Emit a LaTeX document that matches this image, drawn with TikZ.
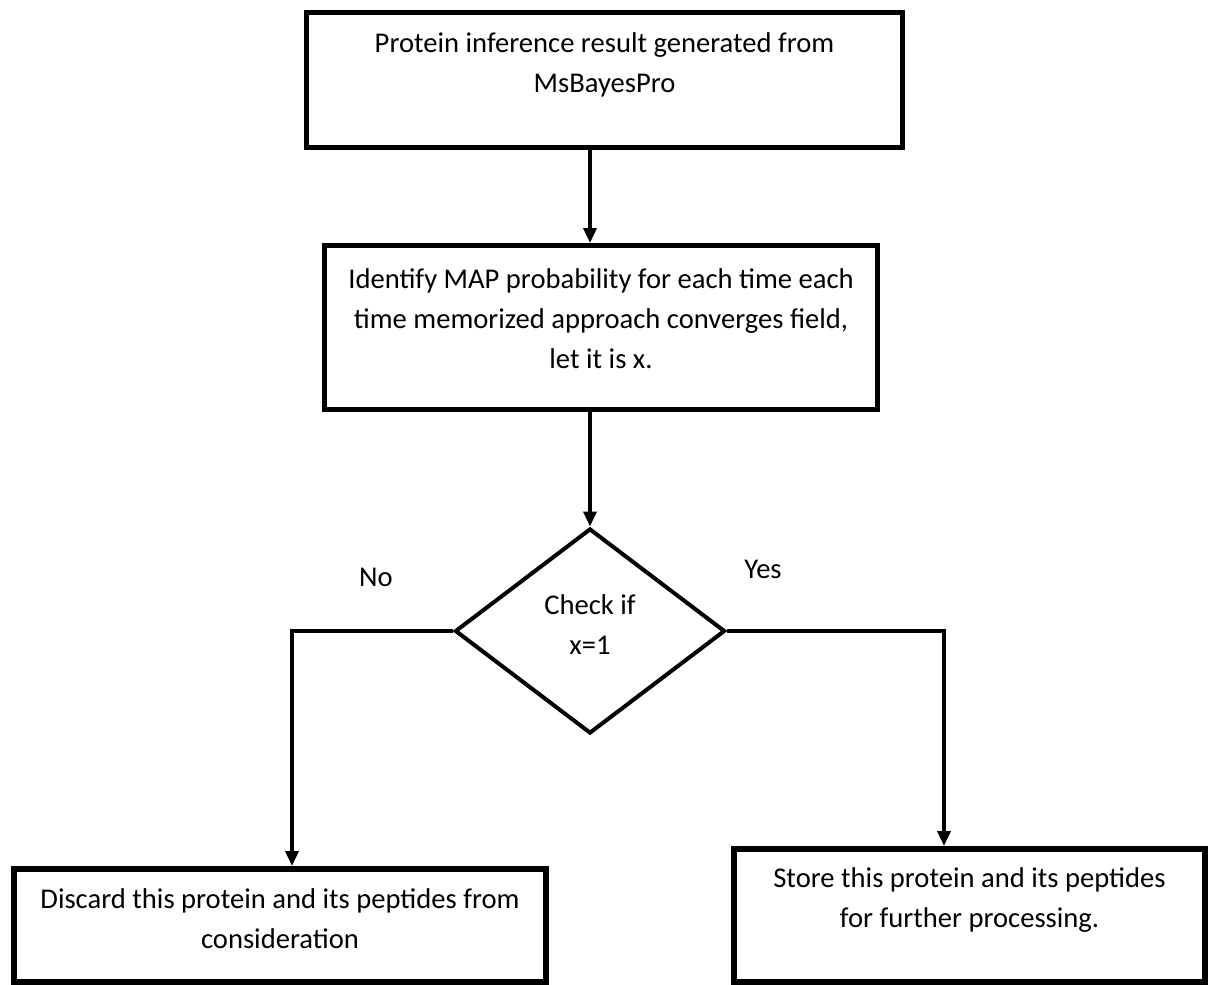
\documentclass[tikz,border=0pt]{standalone}
\usepackage{fontspec}
\setmainfont{Carlito}
\usetikzlibrary{arrows.meta,shapes.geometric}

\begin{document}
\begin{tikzpicture}[
    x=1pt, y=-1pt,
    every node/.style={font=\fontsize{28.6}{40}\selectfont, align=center, inner sep=0pt},
    stepbox/.style={draw, rectangle, line width=5pt, text depth=0pt},
    decision/.style={draw, diamond, line width=4pt, text depth=0pt},
    arrow/.style={-{Triangle[length=15pt, width=13pt]}, line width=3.5pt}
]
\useasboundingbox (0,0) rectangle (1208,985);

% Main column
\node (infer) at (604.5,80) [stepbox, minimum width=596pt, minimum height=135pt, text height=24pt]
    {Protein inference result generated from\\MsBayesPro};
\node (mapprob) at (601,327.5) [stepbox, minimum width=553pt, minimum height=164pt, text height=81pt]
    {Identify MAP probability for each time each\\time memorized approach converges field,\\let it is x.};
\node (check) at (590,631) [decision, minimum width=270pt, minimum height=205pt, text height=46pt]
    {Check if\\x=1};

\draw[arrow] (infer.south -| check.north) -- (mapprob.north -| check.north);
\draw[arrow] (mapprob.south -| check.north) -- (check.north);

% Outcomes
\node (discard) at (280,925.5) [stepbox, line width=6pt, minimum width=532pt, minimum height=113pt, text height=45pt]
    {Discard this protein and its peptides from\\consideration};
\node (store) at (969.5,915.5) [stepbox, line width=6pt, minimum width=471pt, minimum height=133pt, text height=23pt]
    {Store this protein and its peptides\\for further processing.};

\draw[arrow] (check.west) -| ([xshift=12pt]discard.north);
\draw[arrow] (check.east) -| ([xshift=-25.5pt]store.north);

% Branch labels
\node (no) at (376,577) {No};
\node (yes) at (763,569) {Yes};
\end{tikzpicture}
\end{document}
